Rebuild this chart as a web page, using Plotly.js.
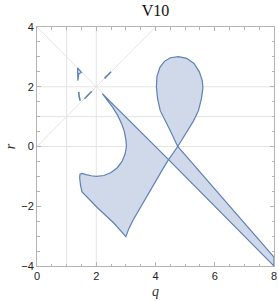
<!DOCTYPE html>
<html>
<head>
<meta charset="utf-8">
<script src="https://cdn.plot.ly/plotly-3.0.1.min.js"></script>
<style>html,body{margin:0;padding:0;background:#fff;}#chart{width:279px;height:301px;}</style>
</head>
<body>
<div id="chart"></div>
<script>
// ---- data ----
const chartTitle = "V10";
const xLabel = "q";
const yLabel = "r";
const xTickVals = [0, 2, 4, 6, 8];
const yTickVals = [-4, -2, 0, 2, 4];

// left region
const qRegionA = [2.21, 4.44, 4.25, 4.05, 3.82, 3.60, 3.42, 3.25, 3.10, 3.00, 2.60, 2.05, 1.52, 1.47, 1.44, 1.45, 1.52, 1.58, 1.66, 1.83, 2.00, 2.26, 2.50, 2.71, 2.87, 2.97, 3.02, 3.00, 2.95, 2.86, 2.72, 2.55, 2.38, 2.21];
const rRegionA = [1.76, -0.44, -0.75, -1.09, -1.45, -1.82, -2.15, -2.45, -2.75, -3.02, -2.57, -2.06, -1.52, -1.30, -1.05, -0.93, -0.90, -0.91, -0.94, -0.98, -1.00, -0.97, -0.87, -0.71, -0.50, -0.26, 0.00, 0.22, 0.50, 0.75, 1.05, 1.32, 1.55, 1.76];

// strip + loop region
const qRegionB = [4.44, 8.00, 8.00, 6.40, 4.75, 4.50, 4.30, 4.16, 4.07, 4.03, 4.05, 4.15, 4.30, 4.50, 4.78, 5.05, 5.30, 5.48, 5.58, 5.60, 5.55, 5.45, 5.28, 5.06, 4.90, 4.75, 4.44];
const rRegionB = [-0.44, -4.00, -3.70, -1.87, 0.00, 0.53, 0.90, 1.20, 1.60, 2.00, 2.35, 2.65, 2.85, 2.97, 3.01, 2.95, 2.78, 2.50, 2.20, 1.95, 1.60, 1.20, 0.85, 0.50, 0.24, 0.00, -0.44];

// small sliver pieces near (2,2)
const qSliver = [1.38, 1.37, 1.50, 1.41, 1.38];
const rSliver = [2.20, 2.63, 2.48, 2.43, 2.20];
const qDash1 = [1.41, 1.42, 1.46];
const rDash1 = [1.83, 1.68, 1.53];
const qDash2 = [1.60, 1.85];
const rDash2 = [1.60, 1.85];
const qDash3 = [2.28, 2.50];
const rDash3 = [2.28, 2.50];

// reference lines
const gridQ = [1, 2];
const gridR = [0, 1, 2];
const diagQ1 = [0, 4];  const diagR1 = [0, 4];
const diagQ2 = [0, 8];  const diagR2 = [4, -4];

// ---- styling ----
const lineCol = "rgb(94,129,181)";
const fillCol = "rgb(207,217,233)";
const refCol = "#e4e4e4";
const frameCol = "#b4b4b4";

const traces = [];
function ref(xs, ys) {
  traces.push({x: xs, y: ys, mode: "lines", line: {color: refCol, width: 1}, hoverinfo: "skip", showlegend: false});
}
gridQ.forEach(v => ref([v, v], [-4, 4]));
gridR.forEach(v => ref([0, 8], [v, v]));
ref(diagQ1, diagR1);
ref(diagQ2, diagR2);

function region(xs, ys) {
  traces.push({x: xs, y: ys, mode: "lines", fill: "toself", fillcolor: fillCol,
    line: {color: lineCol, width: 1.2}, showlegend: false});
}
region(qRegionA, rRegionA);
region(qRegionB, rRegionB);
region(qSliver, rSliver);
function seg(xs, ys) {
  traces.push({x: xs, y: ys, mode: "lines", line: {color: lineCol, width: 1.6}, showlegend: false});
}
seg(qDash1, rDash1);
seg(qDash2, rDash2);
seg(qDash3, rDash3);

const axisCommon = {
  showgrid: false, zeroline: false, showline: true, linecolor: frameCol, linewidth: 1,
  mirror: "ticks", ticks: "inside", ticklen: 4, tickcolor: frameCol, tickwidth: 1,
  minor: {dtick: 0.5, ticks: "inside", ticklen: 2.5, tickcolor: frameCol, showgrid: false},
  tickfont: {family: "Liberation Sans, Arial, sans-serif", size: 11, color: "#222"},
  fixedrange: true
};

const layout = {
  width: 279, height: 301,
  margin: {l: 37, r: 5, t: 27, b: 35},
  paper_bgcolor: "#fff", plot_bgcolor: "#fff",
  title: {text: chartTitle, x: 0.5, xref: "paper", y: 0.965, yref: "container", yanchor: "middle",
    font: {family: "Liberation Serif, Times New Roman, serif", size: 16, color: "#111"}},
  xaxis: Object.assign({}, axisCommon, {range: [0, 8], tickvals: xTickVals,
    title: {text: "<i>" + xLabel + "</i>", standoff: 4, font: {family: "Liberation Serif, serif", size: 14, color: "#333"}}}),
  yaxis: Object.assign({}, axisCommon, {range: [-4, 4], tickvals: yTickVals,
    title: {text: "<i>" + yLabel + "</i>", standoff: 2, font: {family: "Liberation Serif, serif", size: 14, color: "#333"}}}),
  showlegend: false
};

Plotly.newPlot("chart", traces, layout, {displayModeBar: false, staticPlot: true});
</script>
</body>
</html>
